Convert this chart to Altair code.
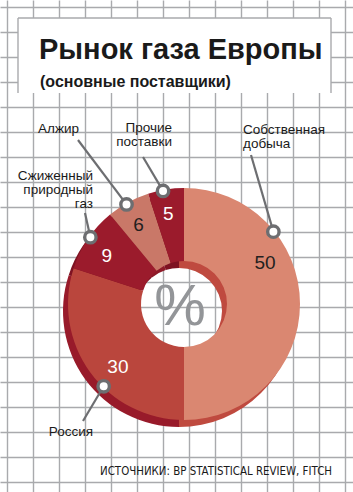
import altair as alt
import pandas as pd
import numpy as np

# ---------------- data ----------------
categories = ["Собственная добыча", "Россия", "Сжиженный природный газ", "Алжир", "Прочие поставки"]
shares = [50, 30, 9, 6, 5]
callout_texts = ["Собственная\nдобыча", "Россия", "Сжиженный\nприродный\nгаз", "Алжир", "Прочие\nпоставки"]
title_text = "Рынок газа Европы"
subtitle_text = "(основные поставщики)"
source_text = "ИСТОЧНИКИ: BP STATISTICAL REVIEW, FITCH"
center_symbol = "%"

# ---------------- layout / style ----------------
W, H = 353, 492
CX, CY = 184, 304
R_OUT, R_IN = 116, 43
SHADOW_DX, SHADOW_DY = -5, 7
face_colors = ["#DA8771", "#BA463D", "#9B1B2C", "#C97868", "#9B1B2C"]
rim_colors = ["#BF4A3F", "#981A2A", "#7E1222", "#8E1A28", "#7E1222"]
value_colors = ["#231F20", "#FFFFFF", "#FFFFFF", "#231F20", "#FFFFFF"]
GRID = "#A9AAAD"
LEADER = "#6D6E71"
LABEL_FONT = "Liberation Sans"
NARROW_FONT = "Liberation Sans Narrow, DejaVu Sans Condensed, sans-serif"

value_angles = [63, 226.6, 302, 330, 350]
VALUE_R = 91
marker_angles = [51, 224.3, 305.5, 330, 349.5]
MARKER_R = 115
callout_pos = [(243, 134, "left"), (93, 436, "right"), (93, 180, "right"), (79, 133, "right"), (172, 132, "right")]
leader_start = [(251, 155), (83, 421), (85, 213), (78, 140), (143, 157)]

grid_x = list(range(7, 346, 26))
grid_y = list(range(7, 484, 25))

xs = alt.Scale(domain=[0, W], range=[0, W], nice=False, zero=False)
ys = alt.Scale(domain=[0, H], range=[0, H], nice=False, zero=False)
AXX = alt.Axis(values=grid_x, grid=True, labels=False, ticks=False, domain=False, title=None,
               gridColor=GRID, gridWidth=1.4, gridOpacity=1)
AXY = alt.Axis(values=grid_y, grid=True, labels=False, ticks=False, domain=False, title=None,
               gridColor=GRID, gridWidth=1.4, gridOpacity=1)


def X(f):
    return alt.X(f, type="quantitative", scale=xs, axis=AXX)


def Y(f):
    return alt.Y(f, type="quantitative", scale=ys, axis=AXY)


def X2(f):
    return alt.X2(f)


def Y2(f):
    return alt.Y2(f)


# ---- title box ----
box = pd.DataFrame({"x0": [18], "x1": [331], "y0": [18], "y1": [93]})
box_layer = alt.Chart(box).mark_rect(fill="white").encode(x=X("x0"), x2=X2("x1"), y=Y("y0"), y2=Y2("y1"))
edges = pd.DataFrame({"x0": [18, 18, 331], "y0": [18, 18, 18], "x1": [18, 331, 331], "y1": [93, 18, 93]})
edge_layer = alt.Chart(edges).mark_rule(color=GRID, strokeWidth=1.4).encode(
    x=X("x0"), y=Y("y0"), x2=X2("x1"), y2=Y2("y1"))

texts = pd.DataFrame({
    "t": [title_text, subtitle_text],
    "x": [39, 40], "y": [59, 87],
})
title_layer = alt.Chart(texts.iloc[[0]]).mark_text(
    align="left", baseline="alphabetic", font=LABEL_FONT, fontSize=29, fontWeight="bold", color="#1A1A1A"
).encode(x=X("x"), y=Y("y"), text="t:N")
sub_layer = alt.Chart(texts.iloc[[1]]).mark_text(
    align="left", baseline="alphabetic", font=LABEL_FONT, fontSize=16, fontWeight="bold", color="#1A1A1A"
).encode(x=X("x"), y=Y("y"), text="t:N")

# ---- pie ----
pie = pd.DataFrame({
    "cat": categories, "share": shares, "ord": list(range(len(shares))),
    "face": face_colors, "rim": rim_colors,
})
pie["cx"] = CX
pie["cy"] = CY
pie["sx"] = CX + SHADOW_DX
pie["sy"] = CY + SHADOW_DY

rim_layer = alt.Chart(pie).mark_arc(innerRadius=R_IN, outerRadius=R_OUT).encode(
    theta=alt.Theta("share:Q", stack=True), order=alt.Order("ord:Q"),
    color=alt.Color("rim:N", scale=None), x=X("sx"), y=Y("sy"))
face_layer = alt.Chart(pie).mark_arc(innerRadius=R_IN, outerRadius=R_OUT).encode(
    theta=alt.Theta("share:Q", stack=True), order=alt.Order("ord:Q"),
    color=alt.Color("face:N", scale=None), x=X("cx"), y=Y("cy"))

# ---- value labels ----
va = np.radians(value_angles)
vals = pd.DataFrame({
    "v": [str(s) for s in shares],
    "x": CX + VALUE_R * np.sin(va),
    "y": CY - VALUE_R * np.cos(va),
    "c": value_colors,
})
val_layer = alt.Chart(vals).mark_text(
    align="center", baseline="middle", font=LABEL_FONT, fontSize=19
).encode(x=X("x"), y=Y("y"), text="v:N", color=alt.Color("c:N", scale=None))

pct = pd.DataFrame({"t": [center_symbol], "x": [180], "y": [325]})
pct_layer = alt.Chart(pct).mark_text(
    align="center", baseline="alphabetic", font=LABEL_FONT, fontSize=58, color="#939598"
).encode(x=X("x"), y=Y("y"), text="t:N")

# ---- callouts ----
ma = np.radians(marker_angles)
mk = pd.DataFrame({
    "mx": CX + MARKER_R * np.sin(ma),
    "my": CY - MARKER_R * np.cos(ma),
    "lx": [p[0] for p in leader_start],
    "ly": [p[1] for p in leader_start],
})
lead_layer = alt.Chart(mk).mark_rule(color=LEADER, strokeWidth=2.2).encode(
    x=X("lx"), y=Y("ly"), x2=X2("mx"), y2=Y2("my"))
dot_layer = alt.Chart(mk).mark_point(
    shape="circle", filled=True, fill="white", stroke=LEADER, strokeWidth=3.4, size=130, opacity=1
).encode(x=X("mx"), y=Y("my"))

co = pd.DataFrame({
    "t": callout_texts,
    "x": [p[0] for p in callout_pos],
    "y": [p[1] for p in callout_pos],
    "a": [p[2] for p in callout_pos],
})
co_left = alt.Chart(co[co["a"] == "left"]).mark_text(
    align="left", baseline="alphabetic", font=LABEL_FONT, fontSize=13.5, lineBreak="\n", lineHeight=14,
    color="#1A1A1A").encode(x=X("x"), y=Y("y"), text="t:N")
co_right = alt.Chart(co[co["a"] == "right"]).mark_text(
    align="right", baseline="alphabetic", font=LABEL_FONT, fontSize=13.5, lineBreak="\n", lineHeight=14,
    color="#1A1A1A").encode(x=X("x"), y=Y("y"), text="t:N")

src = pd.DataFrame({"t": [source_text], "x": [332], "y": [475]})
src_layer = alt.Chart(src).mark_text(
    align="right", baseline="alphabetic", font=NARROW_FONT, fontSize=11.4, color="#1A1A1A"
).encode(x=X("x"), y=Y("y"), text="t:N")

chart = alt.layer(
    box_layer, edge_layer, title_layer, sub_layer,
    rim_layer, face_layer, val_layer, pct_layer,
    lead_layer, dot_layer, co_left, co_right, src_layer,
).properties(
    width=W, height=H, autosize=alt.AutoSizeParams(type="none"), padding=0, background="white"
).configure_view(strokeWidth=0)

chart.save("out.html", embed_options={"renderer": "svg", "actions": False})
